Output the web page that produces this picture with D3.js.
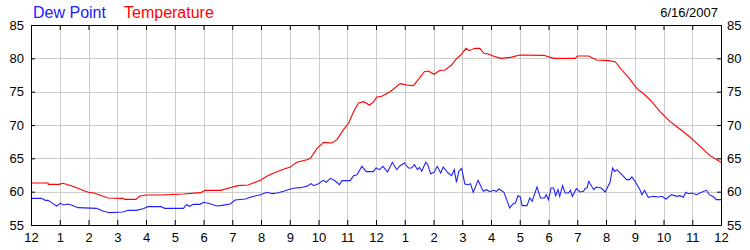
<!DOCTYPE html>
<html>
<head>
<meta charset="utf-8">
<script src="https://cdn.jsdelivr.net/npm/d3@7"></script>
<style>
  body { margin: 0; background: #fff; }
  svg text { font-family: Arial, "Liberation Sans", sans-serif; }
</style>
</head>
<body>
<svg id="chart" width="750" height="250"></svg>
<script>
// hours since midnight, degrees F
var tempHours = [0, 0.59, 0.6, 0.98, 1.11, 1.4, 1.87, 2.0, 2.2, 2.68, 3.2, 3.25, 3.65, 3.77, 4.0, 4.5, 5.3, 5.9, 6.05, 6.6, 6.85, 7.2, 7.55,
  7.98, 8.2, 8.45, 8.8, 9.0, 9.25, 9.6, 9.72, 9.95, 10.18, 10.47, 10.64, 10.87, 11.05, 11.22, 11.39, 11.57, 11.77, 11.9,
  12.03, 12.2, 12.49, 12.84, 13.07, 13.3, 13.47, 13.68, 13.82, 14.02, 14.23, 14.4, 14.63, 14.78, 14.95, 15.13, 15.24,
  15.44, 15.61, 15.75, 15.9, 16.05, 16.33, 16.68, 17.0, 17.83, 18.18, 18.93, 19.01, 19.39, 19.68, 20.09, 20.32, 20.55,
  20.78, 21.07, 21.36, 21.59, 21.88, 22.23, 22.57, 22.92, 23.27, 23.62, 24];
var tempValues = [61.3, 61.3, 61.1, 61.1, 61.25, 60.9, 60.1, 59.9, 59.8, 59.05, 59.0, 58.85, 58.85, 59.3, 59.5, 59.5, 59.65, 59.85, 60.2, 60.2, 60.5, 60.9, 61.0,
  61.7, 62.3, 62.8, 63.4, 63.65, 64.4, 64.8, 65.0, 66.5, 67.4, 67.3, 67.8, 69.3, 70.3, 72.0, 73.3, 73.5, 73.0, 73.4,
  74.2, 74.3, 75.0, 76.2, 76.0, 75.9, 76.8, 78.0, 78.1, 77.6, 78.2, 78.25, 79.0, 79.85, 80.5, 81.5, 81.15,
  81.5, 81.5, 80.75, 80.65, 80.4, 80.0, 80.15, 80.5, 80.45, 80.0, 80.0, 80.35, 80.35, 79.75, 79.65, 79.5, 78.25,
  77.15, 75.5, 74.5, 73.5, 72.0, 70.5, 69.4, 68.2, 66.8, 65.4, 64.4];

var dewHours = [0, 0.36, 0.5, 0.6, 0.7, 0.89, 1.02, 1.14, 1.26, 1.4, 1.64, 2.28, 2.5, 2.73, 3.2, 3.37, 3.66, 3.9, 4.07, 4.53, 4.65,
  5.3, 5.41, 5.53, 5.64, 5.88, 6.0, 6.17, 6.46, 6.64, 6.93, 7.1, 7.45, 7.68, 7.98, 8.21, 8.39, 8.56, 8.79, 9.02, 9.2,
  9.37, 9.6, 9.74, 9.83, 10.0, 10.16, 10.27, 10.41, 10.55, 10.73, 10.82, 11.1, 11.22, 11.34, 11.51, 11.66, 11.91, 12.0,
  12.12, 12.24, 12.4, 12.57, 12.72, 12.84, 12.99, 13.13, 13.24, 13.34, 13.44, 13.51, 13.59, 13.73, 13.8, 13.9, 14.02,
  14.13, 14.25, 14.34, 14.51, 14.63, 14.72, 14.8, 14.88, 14.98, 15.09, 15.21, 15.29, 15.38, 15.55, 15.73, 15.84, 15.96,
  16.08, 16.19, 16.28, 16.45, 16.65, 16.77, 16.85, 16.94, 17.02, 17.08, 17.25, 17.35, 17.43, 17.6, 17.72, 17.86, 17.92,
  18.0, 18.09, 18.18, 18.25, 18.33, 18.39, 18.49, 18.58, 18.7, 18.76, 18.83, 18.97, 19.1, 19.22, 19.28, 19.34, 19.4,
  19.57, 19.66, 19.83, 19.97, 20.14, 20.23, 20.3, 20.38, 20.55, 20.72, 20.82, 20.9, 21.01, 21.18, 21.25, 21.34, 21.47,
  21.65, 21.82, 21.94, 22.09, 22.28, 22.46, 22.57, 22.69, 22.78, 22.86, 22.98, 23.15, 23.32, 23.5, 23.59, 23.75, 23.84, 24];
var dewValues = [59.0, 59.0, 58.7, 58.7, 58.4, 57.85, 58.25, 58.0, 58.15, 58.0, 57.6, 57.5, 57.1, 56.85, 56.95, 57.2, 57.2, 57.45, 57.75, 57.75, 57.5,
  57.5, 58.05, 57.8, 58.1, 58.1, 58.4, 58.25, 57.85, 57.95, 58.15, 58.75, 58.9, 59.25, 59.55, 59.9, 59.7, 59.8, 60.05, 60.4, 60.55,
  60.6, 60.8, 61.2, 60.9, 61.2, 61.7, 61.4, 62.0, 61.7, 61.05, 61.65, 61.65, 62.4, 62.55, 63.8, 63.0, 63.0, 63.55,
  63.3, 63.8, 62.95, 64.4, 63.3, 63.9, 64.3, 63.55, 63.55, 64.05, 63.3, 63.65, 63.05, 64.4, 64.05, 62.7, 62.9,
  63.8, 62.8, 63.7, 62.8, 62.4, 63.3, 61.4, 63.05, 63.5, 61.15, 61.05, 61.2, 59.9, 61.7, 60.05, 60.3, 60.0,
  60.2, 60.05, 60.4, 59.9, 57.55, 58.2, 58.3, 59.4, 59.2, 57.9, 57.9, 59.05, 58.55, 60.7, 59.05, 59.05, 59.55,
  58.8, 60.55, 60.55, 59.4, 60.3, 59.3, 60.9, 59.8, 59.8, 60.2, 59.3, 60.45, 59.95, 60.05, 60.5, 60.55, 61.55,
  60.3, 60.7, 60.55, 59.95, 61.4, 63.55, 63.05, 63.3, 62.55, 61.8, 61.8, 62.2, 61.55, 60.3, 59.55, 60.2, 59.15,
  59.3, 59.2, 59.3, 58.9, 59.55, 59.3, 59.4, 59.15, 59.9, 59.7, 59.8, 59.55, 59.9, 60.2, 59.55, 59.2, 58.8, 58.8];

var hourTicks = d3.range(0, 25);
var hourLabels = ["12", "1", "2", "3", "4", "5", "6", "7", "8", "9", "10", "11",
  "12", "1", "2", "3", "4", "5", "6", "7", "8", "9", "10", "11", "12"];
var yTicks = [55, 60, 65, 70, 75, 80, 85];

var margin = {top: 25, right: 29, bottom: 25, left: 31};
var width = 750 - margin.left - margin.right;
var height = 250 - margin.top - margin.bottom;

var svg = d3.select("#chart");
var g = svg.append("g").attr("transform", "translate(" + margin.left + "," + margin.top + ")");

var x = d3.scaleLinear().domain([0, 24]).range([0, width]);
var y = d3.scaleLinear().domain([55, 85]).range([height, 0]);

// grid
g.append("g").selectAll("line").data(hourTicks.slice(1, -1)).join("line")
  .attr("x1", function (d) { return Math.round(x(d)) + 0.5; })
  .attr("x2", function (d) { return Math.round(x(d)) + 0.5; })
  .attr("y1", 0).attr("y2", height)
  .attr("stroke", "#cccccc");
g.append("g").selectAll("line").data(yTicks.slice(1, -1)).join("line")
  .attr("y1", function (d) { return Math.round(y(d)) + 0.5; })
  .attr("y2", function (d) { return Math.round(y(d)) + 0.5; })
  .attr("x1", 0).attr("x2", width)
  .attr("stroke", "#cccccc");

// lines
var line = d3.line()
  .x(function (d) { return x(d[0]); })
  .y(function (d) { return y(d[1]); });

g.append("path")
  .datum(d3.zip(dewHours, dewValues))
  .attr("d", line)
  .attr("fill", "none")
  .attr("stroke", "#2020ff")
  .attr("stroke-width", 1.1);

g.append("path")
  .datum(d3.zip(tempHours, tempValues))
  .attr("d", line)
  .attr("fill", "none")
  .attr("stroke", "#ff0000")
  .attr("stroke-width", 1.1);

// axes / frame
var styleAxis = function (sel) {
  sel.selectAll(".domain").attr("stroke", "#000");
  sel.selectAll(".tick line").attr("stroke", "#000");
  sel.selectAll("text").attr("fill", "#000").style("font-size", "13px");
};

g.append("g")
  .call(d3.axisLeft(y).tickValues(yTicks).tickSize(-4).tickSizeOuter(0).tickPadding(7))
  .call(styleAxis);
g.append("g")
  .attr("transform", "translate(" + width + ",0)")
  .call(d3.axisRight(y).tickValues(yTicks).tickSize(-4).tickSizeOuter(0).tickPadding(6))
  .call(styleAxis);
g.append("g")
  .attr("transform", "translate(0," + height + ")")
  .call(d3.axisBottom(x).tickValues(hourTicks).tickSize(-5).tickSizeOuter(0).tickPadding(8)
    .tickFormat(function (d, i) { return hourLabels[i]; }))
  .call(styleAxis);
g.append("g")
  .call(d3.axisTop(x).tickValues(hourTicks).tickSize(-5).tickSizeOuter(0).tickFormat(""))
  .call(styleAxis);

// legend + date
svg.append("text").attr("x", 33).attr("y", 18).attr("fill", "#2020ff")
  .style("font-size", "16px").text("Dew Point");
svg.append("text").attr("x", 124).attr("y", 18).attr("fill", "#ff0000")
  .style("font-size", "16px").text("Temperature");
svg.append("text").attr("x", 718).attr("y", 17).attr("text-anchor", "end").attr("fill", "#000")
  .style("font-size", "13px").text("6/16/2007");
</script>
</body>
</html>
